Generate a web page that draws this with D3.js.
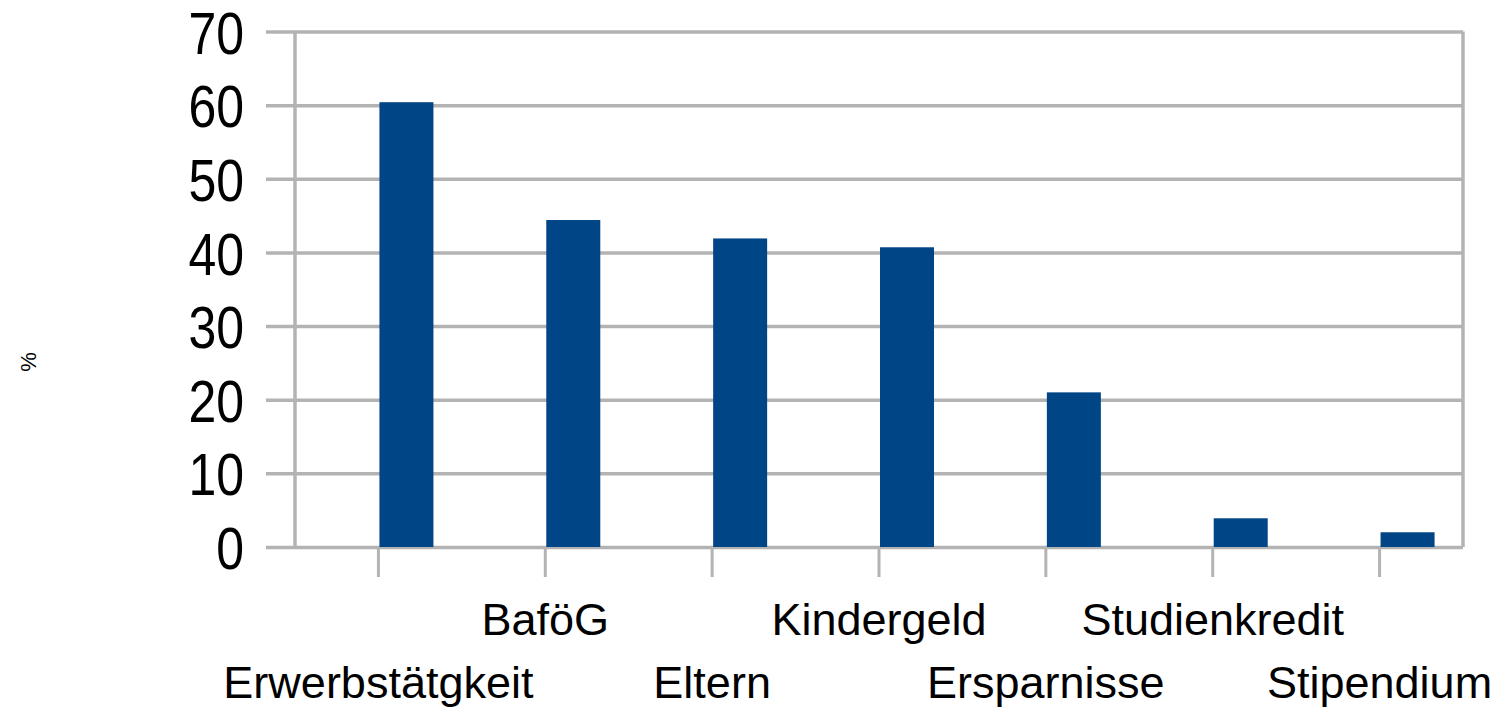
<!DOCTYPE html>
<html>
<head>
<meta charset="utf-8">
<script src="https://cdn.jsdelivr.net/npm/d3@7"></script>
<style>
  body { margin: 0; background: #fff; }
  text { font-family: 'Liberation Sans', Arial, sans-serif; fill: #000; }
</style>
</head>
<body>
<div class="chart"></div>
<script>
// data
let categories = ['Erwerbstätgkeit', 'BaföG', 'Eltern', 'Kindergeld', 'Ersparnisse', 'Studienkredit', 'Stipendium']
let values = [60.4, 44.4, 41.9, 40.7, 21.0, 3.9, 2.0]
let yTicks = [0, 10, 20, 30, 40, 50, 60, 70]
let yTitle = '%'

const width = 1494
const height = 707
const margin = { left: 295, right: 31, top: 31.5, bottom: 160 }
const gridColor = '#b3b3b3'
const barColor = '#004586'

const svg = d3
  .select('.chart')
  .append('svg')
  .attr('width', width)
  .attr('height', height)

let x = d3
  .scaleBand()
  .domain(categories)
  .range([margin.left, width - margin.right])

let y = d3
  .scaleLinear()
  .domain([0, 70])
  .range([height - margin.bottom, margin.top])

// horizontal grid, sticking out a bit left of the axis
svg
  .append('g')
  .attr('class', 'y-grid')
  .attr('transform', `translate(${margin.left - 29},0)`)
  .call(
    d3.axisLeft(y)
      .tickValues(yTicks)
      .tickSize(-(width - margin.right - margin.left + 29))
      .tickFormat('')
  )
  .call((g) => g.select('.domain').remove())
  .selectAll('line')
  .style('stroke', gridColor)
  .style('stroke-width', 3.5)

// y labels
let yAxis = svg
  .append('g')
  .attr('class', 'y-axis')
  .attr('transform', `translate(${margin.left},0)`)
  .call(d3.axisLeft(y).tickValues(yTicks).tickSize(0).tickPadding(51))
yAxis.select('.domain').remove()
yAxis
  .selectAll('text')
  .attr('font-size', 50)
  .attr('font-family', null)
  .attr('dy', null)
  .attr('y', 18)
  // digits in the picture are stretched vertically
  .attr('transform', 'scale(1,1.2)')

// left axis and right border
svg
  .append('line')
  .attr('x1', margin.left)
  .attr('x2', margin.left)
  .attr('y1', y(70))
  .attr('y2', y(0))
  .style('stroke', gridColor)
  .style('stroke-width', 3.5)
svg
  .append('line')
  .attr('x1', width - margin.right)
  .attr('x2', width - margin.right)
  .attr('y1', y(70))
  .attr('y2', y(0))
  .style('stroke', gridColor)
  .style('stroke-width', 3.5)

// category ticks
svg
  .selectAll('.cat-tick')
  .data(categories)
  .enter()
  .append('line')
  .attr('class', 'cat-tick')
  .attr('x1', (d) => x(d) + x.bandwidth() / 2)
  .attr('x2', (d) => x(d) + x.bandwidth() / 2)
  .attr('y1', y(0))
  .attr('y2', y(0) + 30)
  .style('stroke', gridColor)
  .style('stroke-width', 3)

// bars start at the category centre
svg
  .selectAll('.bars')
  .data(values)
  .enter()
  .append('rect')
  .attr('x', (d, i) => x(categories[i]) + x.bandwidth() / 2 + 1)
  .attr('y', (d) => y(d))
  .attr('width', 54)
  .attr('height', (d) => y(0) - y(d))
  .style('fill', barColor)

// staggered labels
svg
  .selectAll('.x-label')
  .data(categories)
  .enter()
  .append('text')
  .attr('class', 'x-label')
  .attr('x', (d) => x(d) + x.bandwidth() / 2)
  .attr('y', (d, i) => (i % 2 === 0 ? 698 : 635))
  .attr('text-anchor', 'middle')
  .attr('font-size', 45)
  .text((d) => d)

// axis title
svg
  .append('text')
  .attr('transform', `translate(36,362) rotate(-90)`)
  .attr('text-anchor', 'middle')
  .attr('font-size', 22)
  .text(yTitle)
</script>
</body>
</html>
